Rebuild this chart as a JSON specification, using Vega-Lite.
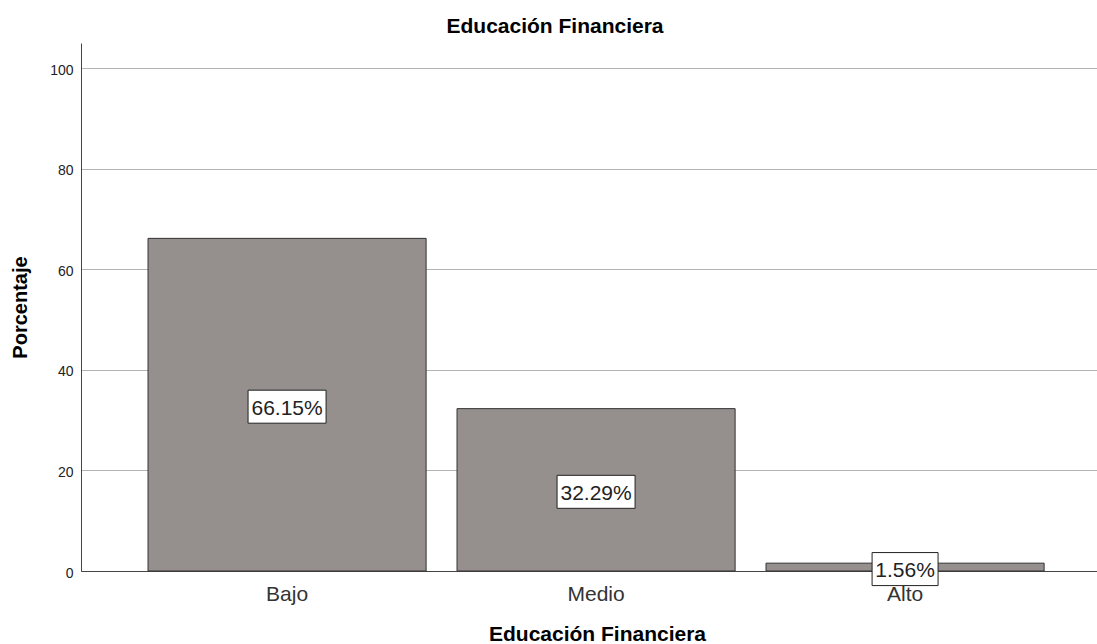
{
  "$schema": "https://vega.github.io/schema/vega-lite/v6.json",
  "autosize": "none",
  "padding": {"left": 81, "top": 43, "right": 0, "bottom": 73},
  "width": 1016,
  "height": 528,
  "background": "white",
  "title": {
    "text": "Educación Financiera",
    "font": "Liberation Sans",
    "fontSize": 21,
    "fontWeight": "bold",
    "color": "#000000",
    "baseline": "alphabetic",
    "offset": -11,
    "dx": -34,
    "anchor": "middle"
  },
  "data": {
    "values": [
      {"cat": "Bajo", "pct": 66.15, "label": "66.15%"},
      {"cat": "Medio", "pct": 32.29, "label": "32.29%"},
      {"cat": "Alto", "pct": 1.56, "label": "1.56%"}
    ]
  },
  "config": {
    "view": {"stroke": null},
    "font": "Liberation Sans"
  },
  "encoding": {
    "x": {
      "field": "cat",
      "type": "nominal",
      "sort": ["Bajo", "Medio", "Alto"],
      "scale": {"paddingInner": 0.1, "paddingOuter": 0.194, "align": 0.559},
      "axis": {
        "title": "Educación Financiera",
        "titleFont": "Liberation Sans",
        "titleFontSize": 21,
        "titleFontWeight": "bold",
        "titleColor": "#000000",
        "titleBaseline": "alphabetic",
        "titleX": 516,
        "titleY": 69,
        "labelFont": "Liberation Sans",
        "labelFontSize": 21,
        "labelColor": "#333333",
        "labelAngle": 0,
        "labelBaseline": "alphabetic",
        "labelPadding": 29,
        "ticks": false,
        "tickSize": 0,
        "domainColor": "#444444",
        "domainWidth": 1,
        "grid": false
      }
    }
  },
  "layer": [
    {
      "mark": {"type": "bar", "fill": "#958f8e", "stroke": "#333333", "strokeWidth": 1},
      "encoding": {
        "y": {
          "field": "pct",
          "type": "quantitative",
          "scale": {"domain": [0, 105], "nice": false},
          "axis": {
            "title": "Porcentaje",
            "titleFont": "Liberation Sans",
            "titleFontSize": 20,
            "titleFontWeight": "bold",
            "titleColor": "#000000",
            "titleBaseline": "alphabetic",
            "titleX": -54.5,
            "titleY": 264,
            "titleAngle": -90,
            "values": [0, 20, 40, 60, 80, 100],
            "labelFont": "Liberation Sans",
            "labelFontSize": 14,
            "labelColor": "#222222",
            "labelPadding": 8,
            "labelOffset": 2,
            "ticks": false,
            "tickSize": 0,
            "domainColor": "#444444",
            "domainWidth": 1,
            "grid": true,
            "gridColor": "#b4b4b4",
            "gridWidth": 1
          }
        }
      }
    },
    {
      "mark": {"type": "point", "filled": true, "fill": "white", "stroke": "#222222", "strokeWidth": 1, "opacity": 1, "size": 6084, "yOffset": 2},
      "encoding": {
        "y": {"field": "pct", "type": "quantitative", "scale": {"domain": [0, 210], "nice": false}, "axis": null},
        "shape": {
          "field": "cat",
          "type": "nominal",
          "scale": {
            "domain": ["Bajo", "Medio", "Alto"],
            "range": [
              "M-1,-0.4231L1,-0.4231L1,0.4231L-1,0.4231Z",
              "M-1,-0.4231L1,-0.4231L1,0.4231L-1,0.4231Z",
              "M-0.846,-0.4231L0.846,-0.4231L0.846,0.4231L-0.846,0.4231Z"
            ]
          },
          "legend": null
        }
      }
    },
    {
      "mark": {"type": "text", "font": "Liberation Sans", "fontSize": 21, "color": "#222222", "baseline": "alphabetic", "align": "center", "dy": 10},
      "encoding": {
        "y": {"field": "pct", "type": "quantitative", "scale": {"domain": [0, 210], "nice": false}, "axis": null},
        "text": {"field": "label", "type": "nominal"}
      }
    }
  ],
  "resolve": {"scale": {"y": "independent"}}
}
